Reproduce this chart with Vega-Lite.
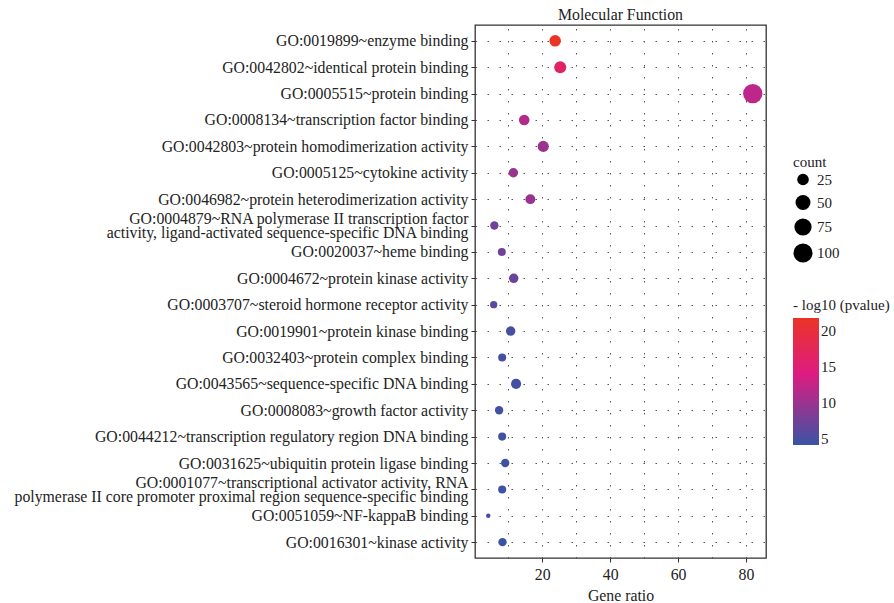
{
  "$schema": "https://vega.github.io/schema/vega-lite/v6.json",
  "width": 291,
  "height": 533,
  "padding": {"left": 14, "top": 7, "right": 5, "bottom": 2},
  "title": {"text": "Molecular Function", "fontSize": 15.8, "fontWeight": "normal", "color": "#222", "offset": 1, "anchor": "middle", "font": "Liberation Serif"},
  "data": {"values": [
    {"term": "GO:0019899~enzyme binding", "ratio": 23.8, "count": 24, "logp": 21.8},
    {"term": "GO:0042802~identical protein binding", "ratio": 25.3, "count": 27, "logp": 16.5},
    {"term": "GO:0005515~protein binding", "ratio": 82, "count": 104, "logp": 12},
    {"term": "GO:0008134~transcription factor binding", "ratio": 14.7, "count": 19, "logp": 11.5},
    {"term": "GO:0042803~protein homodimerization activity", "ratio": 20.3, "count": 22, "logp": 10},
    {"term": "GO:0005125~cytokine activity", "ratio": 11.5, "count": 14, "logp": 10},
    {"term": "GO:0046982~protein heterodimerization activity", "ratio": 16.5, "count": 16, "logp": 10},
    {"term": "GO:0004879~RNA polymerase II transcription factor|activity, ligand-activated sequence-specific DNA binding", "ratio": 5.9, "count": 10, "logp": 7.5},
    {"term": "GO:0020037~heme binding", "ratio": 8.1, "count": 9, "logp": 7.3},
    {"term": "GO:0004672~protein kinase activity", "ratio": 11.6, "count": 14, "logp": 7},
    {"term": "GO:0003707~steroid hormone receptor activity", "ratio": 5.7, "count": 7, "logp": 6.3},
    {"term": "GO:0019901~protein kinase binding", "ratio": 10.7, "count": 14, "logp": 5},
    {"term": "GO:0032403~protein complex binding", "ratio": 8.2, "count": 9, "logp": 5},
    {"term": "GO:0043565~sequence-specific DNA binding", "ratio": 12.3, "count": 17, "logp": 4.7},
    {"term": "GO:0008083~growth factor activity", "ratio": 7.3, "count": 10, "logp": 4.8},
    {"term": "GO:0044212~transcription regulatory region DNA binding", "ratio": 8.2, "count": 9, "logp": 4.6},
    {"term": "GO:0031625~ubiquitin protein ligase binding", "ratio": 9.1, "count": 10, "logp": 4.5},
    {"term": "GO:0001077~transcriptional activator activity, RNA|polymerase II core promoter proximal region sequence-specific binding", "ratio": 8.2, "count": 9, "logp": 4.5},
    {"term": "GO:0051059~NF-kappaB binding", "ratio": 4.1, "count": 2, "logp": 4.3},
    {"term": "GO:0016301~kinase activity", "ratio": 8.3, "count": 10, "logp": 4.2}
  ]},
  "mark": {"type": "circle", "opacity": 1, "stroke": null},
  "encoding": {
    "y": {
      "field": "term", "type": "nominal", "sort": null,
      "scale": {"type": "point", "padding": 0.6},
      "axis": {
        "title": null,
        "labelExpr": "split(datum.value, '|')",
        "labelFontSize": 15.8, "labelColor": "#222", "labelLineHeight": 14,
        "labelOffset": {"condition": {"test": "indexof(datum.value, '|') >= 0", "value": -7}, "value": 0},
        "labelPadding": 3, "labelLimit": 700,
        "tickSize": 4, "tickColor": "#333", "domain": false,
        "grid": true, "gridColor": "#555", "gridDash": [1.5, 10.5], "gridWidth": 1
      }
    },
    "x": {
      "field": "ratio", "type": "quantitative",
      "scale": {"domain": [0.2, 85.9], "nice": false, "zero": false},
      "axis": {
        "title": "Gene ratio", "titleFontSize": 15.8, "titleFontWeight": "normal", "titleColor": "#222", "titlePadding": 7,
        "values": [10, 20, 30, 40, 50, 60, 70, 80],
        "labelExpr": "datum.value % 20 == 0 ? datum.label : ''",
        "labelFontSize": 15.8, "labelColor": "#222", "labelPadding": 5,
        "tickSize": 4, "tickColor": "#333",
        "tickOpacity": {"condition": {"test": "datum.value % 20 == 0", "value": 1}, "value": 0},
        "domain": false,
        "grid": true, "gridColor": "#555", "gridDash": [1.5, 10.5], "gridWidth": 1
      }
    },
    "size": {
      "field": "count", "type": "quantitative",
      "scale": {"type": "pow", "exponent": 0.7, "domain": [2, 104], "range": [20, 375]},
      "legend": {"title": "count", "values": [25, 50, 75, 100], "symbolFillColor": "black", "symbolStrokeWidth": 0, "symbolOpacity": 1, "orient": "none", "legendX": 318, "legendY": 130, "rowPadding": 7, "titlePadding": 2}
    },
    "color": {
      "field": "logp", "type": "quantitative",
      "scale": {"domain": [4.2, 14, 21.8], "range": ["#3A54A4", "#DD1C82", "#EB3326"], "interpolate": "rgb"},
      "legend": {"title": "- log10 (pvalue)", "values": [5, 10, 15, 20], "gradientLength": 127, "gradientThickness": 26, "gradientStrokeWidth": 0, "orient": "none", "legendX": 318, "legendY": 273}
    }
  },
  "config": {
    "font": "Liberation Serif",
    "view": {"stroke": "#333", "strokeWidth": 1.3},
    "legend": {"titleFontSize": 15, "titleFontWeight": "normal", "titleColor": "#222", "labelFontSize": 15, "labelColor": "#222", "rowPadding": 6}
  }
}
